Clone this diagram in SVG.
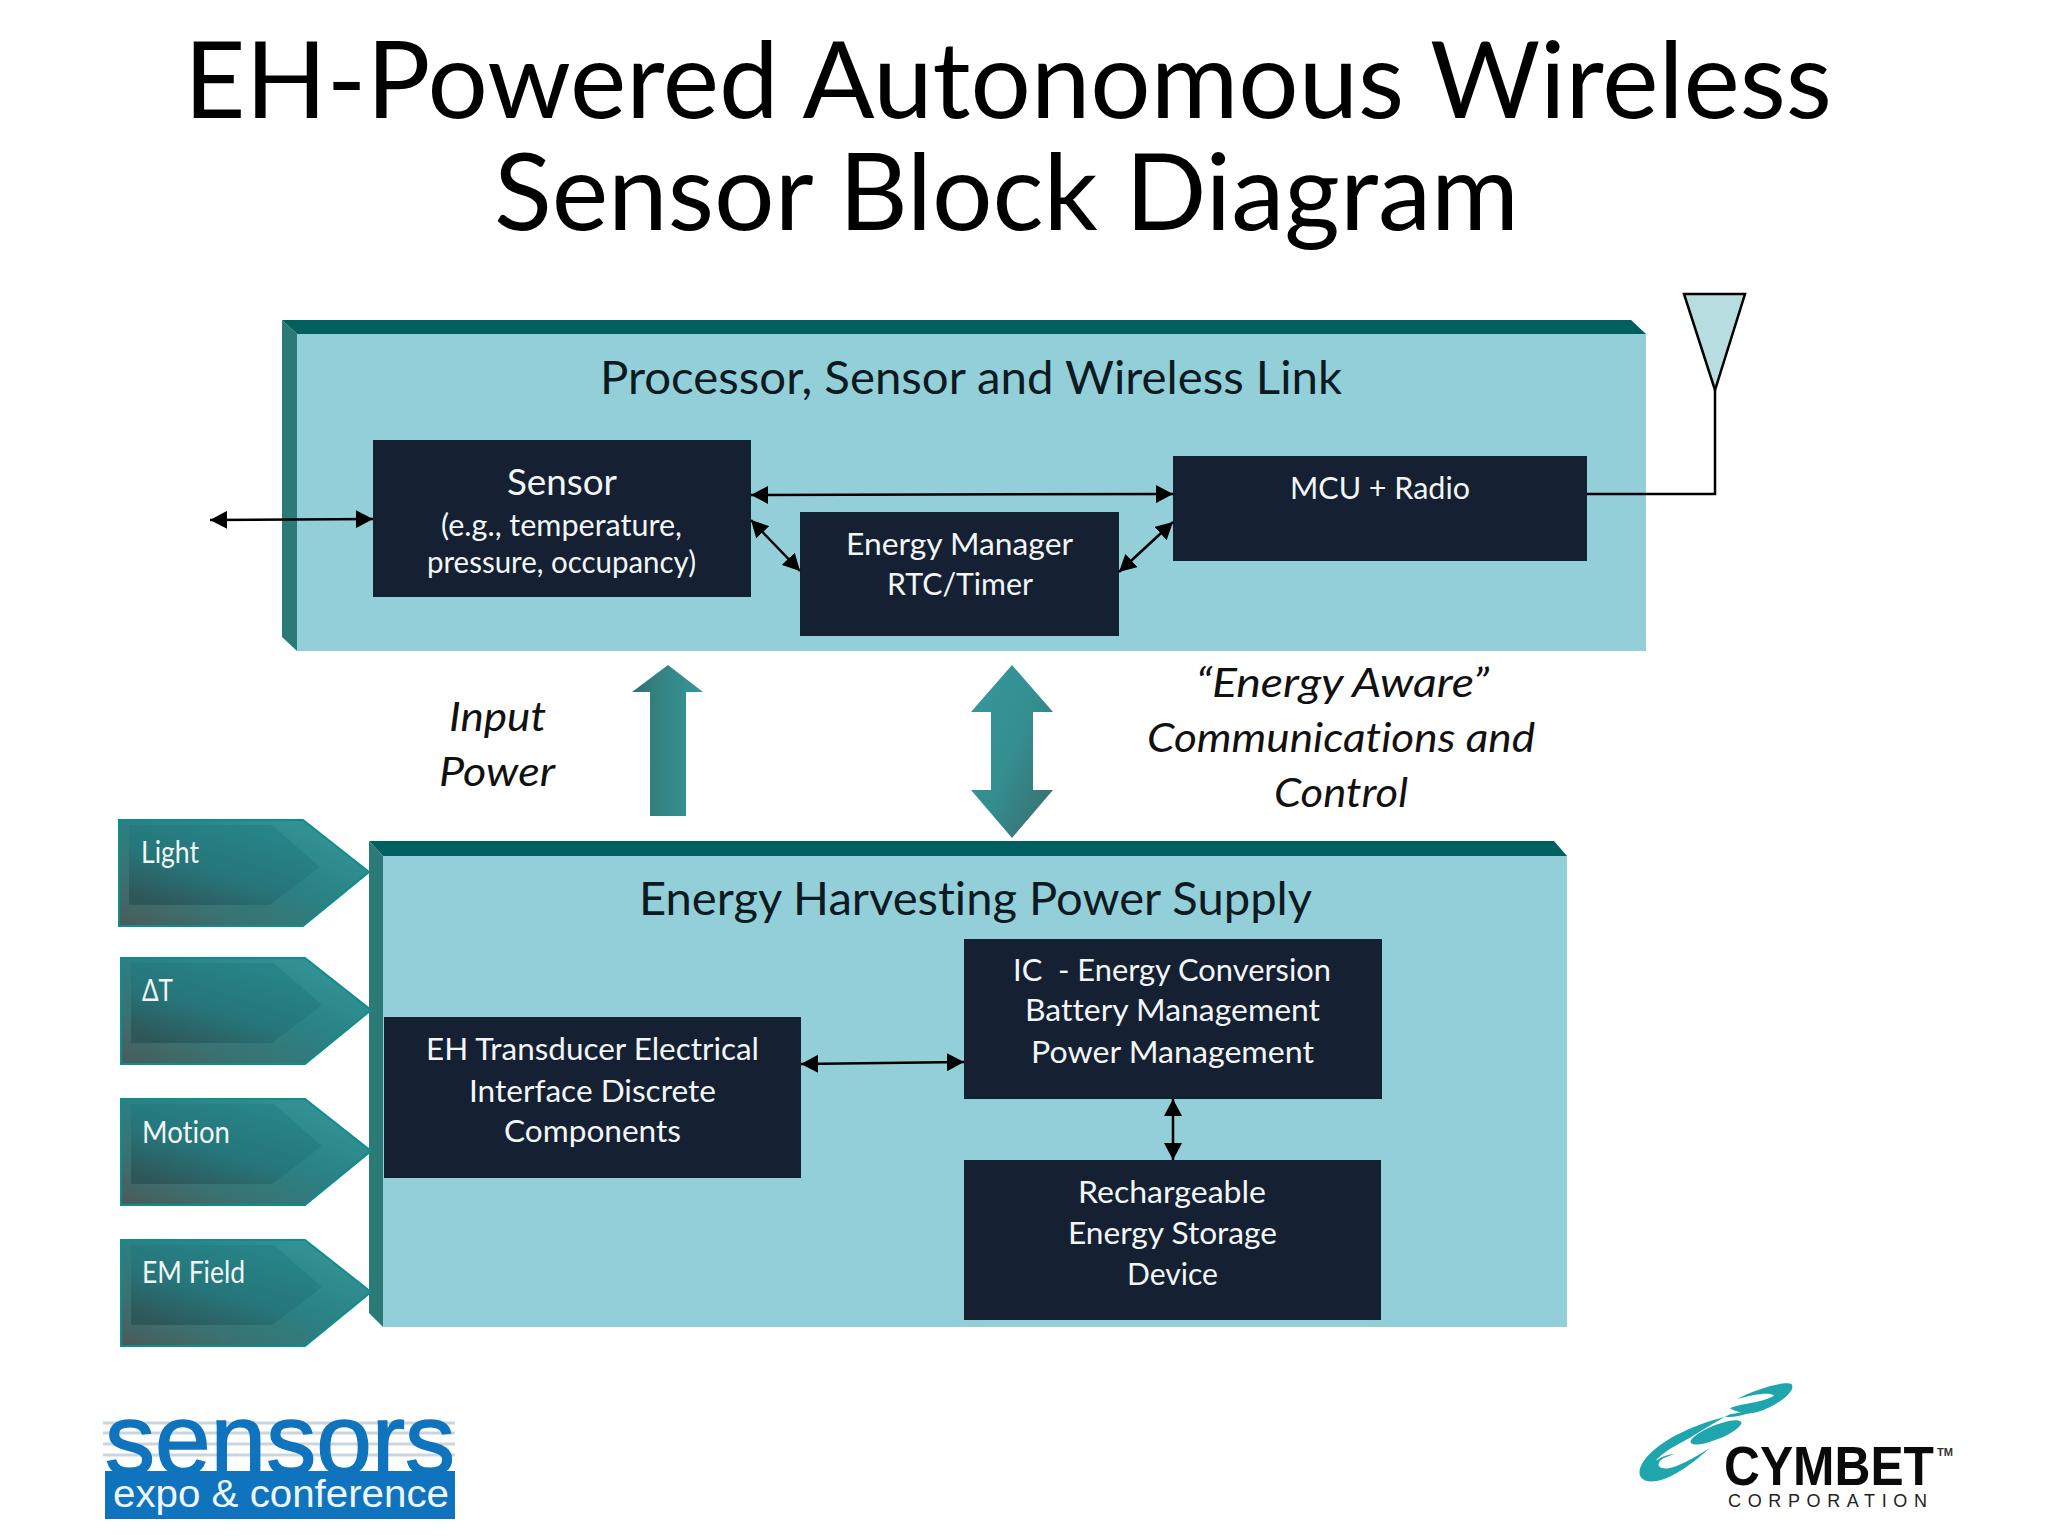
<svg xmlns="http://www.w3.org/2000/svg" xmlns:xlink="http://www.w3.org/1999/xlink" width="2048" height="1536" viewBox="0 0 2048 1536">
<style>
text{font-family:"Lato","Liberation Sans",sans-serif;font-variant-ligatures:none}
.title{font-size:106px;fill:#000}
.head{font-size:46px;fill:#0d1a22}
.box{fill:#152033}
.w{font-size:31px;fill:#f2f6f7}
.w2{font-size:30px;fill:#f2f6f7}
.it{font-size:41px;font-style:italic;fill:#111}
.front{fill:#93cfd8}
.top{fill:#006060}
.left{fill:#2c7a78}
.conn{fill:none;stroke:#000;stroke-width:2.5}
.arr{marker-start:url(#ah);marker-end:url(#ah)}
</style>
<defs>
<marker id="ah" markerUnits="userSpaceOnUse" markerWidth="18" markerHeight="18" refX="17" refY="9" orient="auto-start-reverse"><path d="M0,0L17,9L0,18Z" fill="#000"/></marker>
<linearGradient id="go" x1="1" y1="0" x2="0" y2="1"><stop offset="0" stop-color="#369a9a"/><stop offset=".45" stop-color="#2a8285"/><stop offset=".75" stop-color="#3a7272"/><stop offset="1" stop-color="#4a5a58"/></linearGradient>
<linearGradient id="gi" x1=".9" y1="0" x2=".15" y2="1"><stop offset="0" stop-color="#26888c"/><stop offset=".6" stop-color="#26767a"/><stop offset="1" stop-color="#2f5658"/></linearGradient>
<linearGradient id="gu" x1="0" y1="0" x2="1" y2="0"><stop offset="0" stop-color="#2f6f70"/><stop offset=".3" stop-color="#347f7e"/><stop offset="1" stop-color="#36979a"/></linearGradient>
<linearGradient id="gd" x1="0" y1="0" x2="1" y2="1"><stop offset="0" stop-color="#36999c"/><stop offset=".5" stop-color="#348e90"/><stop offset="1" stop-color="#3a6b6c"/></linearGradient>
<g id="pent"><polygon points="0,0 184,0 250,52 184,106 0,106" fill="url(#go)" stroke="#0f8c8c" stroke-width="2"/><polygon points="10,5 153,5 201,47 151,85 10,85" fill="url(#gi)"/></g>
</defs>
<rect width="2048" height="1536" fill="#fff"/>
<g id="title">
<text class="title" x="184" y="118" textLength="1648" lengthAdjust="spacingAndGlyphs">EH-Powered Autonomous Wireless</text>
<text class="title" x="494" y="230" textLength="1025" lengthAdjust="spacingAndGlyphs">Sensor Block Diagram</text>
</g>
<g id="processor-panel">
<rect class="front" x="297" y="334" width="1349" height="317"/>
<polygon class="top" points="282,320 1631,320 1646,334 297,334"/>
<polygon class="left" points="282,320 297,334 297,651 282,637"/>
<text class="head" x="600" y="394" textLength="742" lengthAdjust="spacingAndGlyphs">Processor, Sensor and Wireless Link</text>
</g>
<g id="harvest-panel">
<rect class="front" x="383" y="856" width="1184" height="471"/>
<polygon class="top" points="369,841 1554,841 1567,856 383,856"/>
<polygon class="left" points="369,841 383,856 383,1327 369,1313"/>
<text class="head" x="639" y="915" textLength="673" lengthAdjust="spacingAndGlyphs">Energy Harvesting Power Supply</text>
</g>
<g id="sensor">
<rect class="box" x="373" y="440" width="378" height="157"/>
<text x="507" y="495" font-size="36" fill="#f2f6f7" textLength="110" lengthAdjust="spacingAndGlyphs">Sensor</text>
<text class="w" x="441" y="536" textLength="241" lengthAdjust="spacingAndGlyphs">(e.g., temperature,</text>
<text class="w" x="427" y="573" textLength="269" lengthAdjust="spacingAndGlyphs">pressure, occupancy)</text>
</g>
<g id="energy-manager">
<rect class="box" x="800" y="512" width="319" height="124"/>
<text class="w" x="846" y="555" textLength="227" lengthAdjust="spacingAndGlyphs">Energy Manager</text>
<text class="w" x="887" y="595" textLength="146" lengthAdjust="spacingAndGlyphs">RTC/Timer</text>
</g>
<g id="mcu">
<rect class="box" x="1173" y="456" width="414" height="105"/>
<text class="w" x="1290" y="499" textLength="180" lengthAdjust="spacingAndGlyphs">MCU + Radio</text>
</g>
<g id="eh-transducer">
<rect class="box" x="384" y="1017" width="417" height="161"/>
<text class="w" x="426" y="1060" textLength="333" lengthAdjust="spacingAndGlyphs">EH Transducer Electrical</text>
<text class="w" x="469" y="1102" textLength="247" lengthAdjust="spacingAndGlyphs">Interface Discrete</text>
<text class="w" x="504" y="1142" textLength="177" lengthAdjust="spacingAndGlyphs">Components</text>
</g>
<g id="ic">
<rect class="box" x="964" y="939" width="418" height="160"/>
<text class="w" x="1013" y="981" textLength="318" lengthAdjust="spacingAndGlyphs" xml:space="preserve">IC  - Energy Conversion</text>
<text class="w" x="1025" y="1021" textLength="295" lengthAdjust="spacingAndGlyphs">Battery Management</text>
<text class="w" x="1031" y="1063" textLength="283" lengthAdjust="spacingAndGlyphs">Power Management</text>
</g>
<g id="storage">
<rect class="box" x="964" y="1160" width="417" height="160"/>
<text class="w" x="1078" y="1203" textLength="188" lengthAdjust="spacingAndGlyphs">Rechargeable</text>
<text class="w" x="1068" y="1244" textLength="209" lengthAdjust="spacingAndGlyphs">Energy Storage</text>
<text class="w" x="1127" y="1285" textLength="91" lengthAdjust="spacingAndGlyphs">Device</text>
</g>
<g id="antenna">
<polygon points="1684,294 1745,294 1715,390" fill="#b7dde0" stroke="#000" stroke-width="2.5"/>
</g>
<g id="connectors">
<line class="conn arr" x1="210" y1="520" x2="373" y2="519"/>
<line class="conn arr" x1="751" y1="495" x2="1173" y2="494"/>
<line class="conn arr" x1="751" y1="520" x2="800" y2="571"/>
<line class="conn arr" x1="1119" y1="572" x2="1173" y2="522"/>
<polyline class="conn" points="1587,494 1715,494 1715,390"/>
<line class="conn arr" x1="801" y1="1064" x2="964" y2="1062"/>
<line class="conn arr" x1="1173" y1="1099" x2="1173" y2="1160"/>
</g>
<g id="input-power-arrow"><polygon points="668,665 703,692 686,692 686,816 650,816 650,692 632,692" fill="url(#gu)"/></g>
<g id="comms-arrow"><polygon points="1012,665 1053,712 1033,712 1033,790 1053,790 1012,838 971,790 991,790 991,712 971,712" fill="url(#gd)"/></g>
<g id="input-power-label">
<text class="it" x="449" y="731" textLength="97" lengthAdjust="spacingAndGlyphs">Input</text>
<text class="it" x="439" y="786" textLength="116" lengthAdjust="spacingAndGlyphs">Power</text>
</g>
<g id="comms-label">
<text class="it" x="1196" y="697" textLength="293" lengthAdjust="spacingAndGlyphs">“Energy Aware”</text>
<text class="it" x="1147" y="752" textLength="388" lengthAdjust="spacingAndGlyphs">Communications and</text>
<text class="it" x="1274" y="807" textLength="134" lengthAdjust="spacingAndGlyphs">Control</text>
</g>
<g id="light"><use xlink:href="#pent" href="#pent" x="119" y="820"/><text class="w2" x="141" y="863" textLength="58" lengthAdjust="spacingAndGlyphs">Light</text></g>
<g id="delta-t"><use xlink:href="#pent" href="#pent" x="121" y="958"/><text class="w2" x="142" y="1001" textLength="31" lengthAdjust="spacingAndGlyphs">ΔT</text></g>
<g id="motion"><use xlink:href="#pent" href="#pent" x="121" y="1099"/><text class="w2" x="142" y="1143" textLength="88" lengthAdjust="spacingAndGlyphs">Motion</text></g>
<g id="em-field"><use xlink:href="#pent" href="#pent" x="121" y="1240"/><text class="w2" x="142" y="1283" textLength="103" lengthAdjust="spacingAndGlyphs">EM Field</text></g>
<g id="sensors-logo">
<g stroke="#c9d6e0" stroke-width="3"><line x1="103" y1="1423" x2="455" y2="1423"/><line x1="103" y1="1433" x2="455" y2="1433"/><line x1="103" y1="1444" x2="455" y2="1444"/><line x1="103" y1="1455" x2="455" y2="1455"/></g>
<text x="105" y="1474" font-size="100" fill="#0f74bd" stroke="#0f74bd" stroke-width="1.5" style="font-family:'Liberation Sans',sans-serif" textLength="350" lengthAdjust="spacingAndGlyphs">sensors</text>
<rect x="105" y="1471" width="350" height="48" fill="#0f74bd"/>
<text x="113" y="1507" font-size="38" fill="#eef5fa" style="font-family:'Liberation Sans',sans-serif" textLength="336" lengthAdjust="spacingAndGlyphs">expo &amp; conference</text>
</g>
<g id="cymbet-logo">
<g transform="translate(1630 1375) scale(.3333)" fill="#1fa5ad">
<path d="M322 72C370 45 465 15 485 28C500 48 440 95 380 112C350 120 320 112 300 100C325 85 395 85 432 62C420 50 370 58 322 72Z"/>
<path d="M410 92C370 112 320 130 285 125L300 118C340 112 380 100 410 92Z"/>
<ellipse cx="258" cy="172" rx="82" ry="21" transform="rotate(-22 258 172)"/>
<path d="M285 125C190 150 70 200 33 272C18 305 40 325 80 318C135 308 200 255 240 218C190 250 130 285 100 280C80 277 82 262 100 250L132 237C110 238 85 250 72 262C64 270 60 278 60 285C70 255 110 225 150 205C195 180 240 150 285 125Z"/>
</g>
<text x="1724" y="1485" font-size="56" font-weight="700" fill="#0a0a0a" style="font-family:'Liberation Sans',sans-serif" textLength="210" lengthAdjust="spacingAndGlyphs">CYMBET</text>
<text x="1937" y="1456" font-size="10" font-weight="700" fill="#333" style="font-family:'Liberation Sans',sans-serif" textLength="16" lengthAdjust="spacingAndGlyphs">TM</text>
<text x="1728" y="1507" font-size="18" fill="#222" style="font-family:'Liberation Sans',sans-serif" textLength="199">CORPORATION</text>
</g>
</svg>
